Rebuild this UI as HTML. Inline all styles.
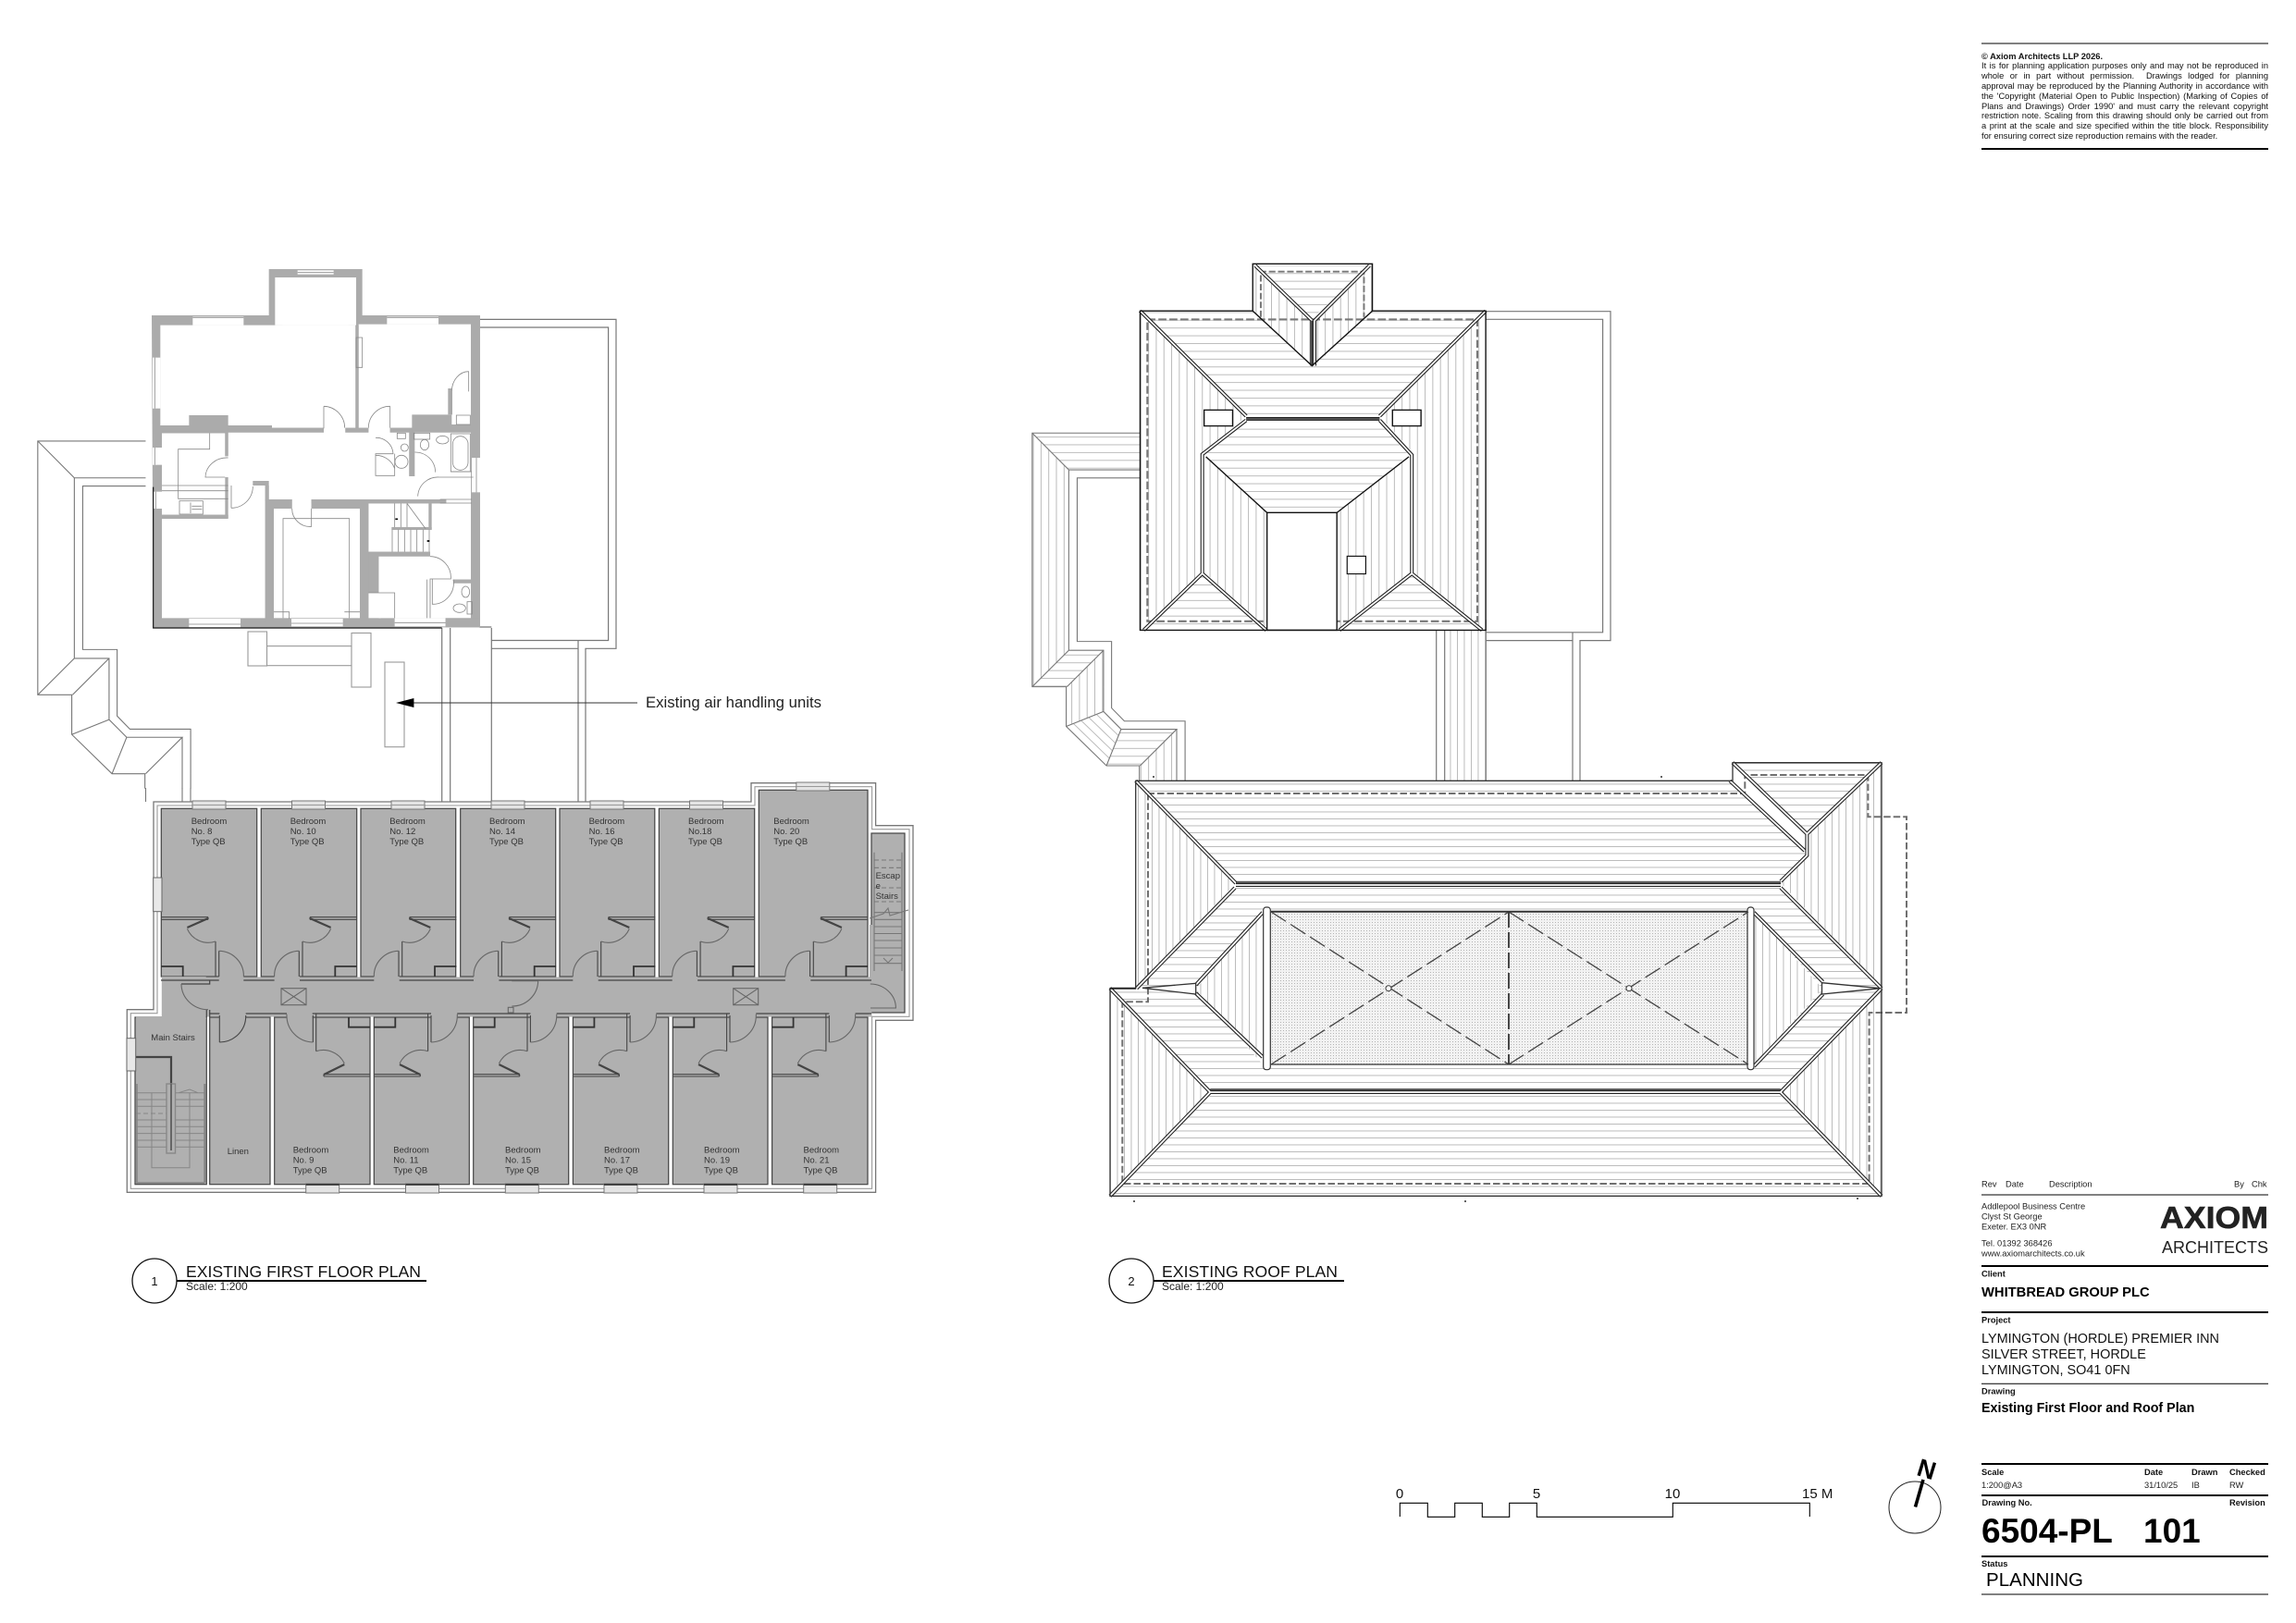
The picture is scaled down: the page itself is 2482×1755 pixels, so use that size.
<!DOCTYPE html>
<html><head><meta charset="utf-8"><title>6504-PL 101</title>
<style>
html,body{margin:0;padding:0;background:#fff}
body{position:relative;width:2482px;height:1755px;overflow:hidden;font-family:"Liberation Sans",sans-serif}
svg{position:absolute;left:0;top:0}
#note{position:absolute;left:2142px;top:55.6px;width:310px;font-size:9.3px;line-height:10.8px;color:#111}
#note div{text-align:justify;text-align-last:justify;white-space:pre-wrap}
#note .l{text-align:left;text-align-last:left}
text{font-family:"Liberation Sans",sans-serif}
.lb{font-size:9.5px;fill:#333}
.t{font-size:9.3px;fill:#222}
.b{font-size:9.3px;font-weight:bold;fill:#111}
</style></head><body>
<svg width="2482" height="1755" viewBox="0 0 2482 1755" xmlns="http://www.w3.org/2000/svg">
<defs>
<pattern id="h" width="8" height="7.5" patternUnits="userSpaceOnUse"><rect width="8" height="0.9" fill="#b4b4b4"/></pattern>
<pattern id="v" width="7.5" height="8" patternUnits="userSpaceOnUse"><rect width="0.9" height="8" fill="#b4b4b4"/></pattern>
<pattern id="h3" width="20" height="22" patternUnits="userSpaceOnUse"><rect width="20" height="2.4" fill="#b8b8b8"/></pattern>
<pattern id="v3" width="21" height="20" patternUnits="userSpaceOnUse"><rect width="2.4" height="20" fill="#b8b8b8"/></pattern>
<pattern id="o3" width="21" height="21" patternUnits="userSpaceOnUse" patternTransform="rotate(-45)"><rect width="2.4" height="21" fill="#b8b8b8"/></pattern>
<pattern id="sp" width="3" height="3" patternUnits="userSpaceOnUse"><rect width="3" height="3" fill="#f2f2f2"/><rect x="1" y="1" width="1" height="1" fill="#b5b5b5"/></pattern>

<g id="flat" fill="none" stroke="#777" stroke-width="1.2">
<path d="M518 345.4H666V701.3H633V870M518 354H657.6V692.5H531.3M625 692.5V870M531.3 701.3H625M486.7 679V867M531.3 679V867M518 678H531.3"/>
<path d="M477.7 679V867"/>
</g>

<g id="wl" fill="none" stroke="#777" stroke-width="2.8" transform="translate(1100 270) scale(.3954 .3827)">
<path d="M335 518H40V1235H133V1347L243 1458H333V1500M335 645H163V1107H257V1295L292 1332H458V1500M435 1355V1500M335 622H140V1132H235V1305L283 1355H435L335 1458M40 518L140 622M40 1235L140 1132M135 1235L235 1132M133 1347L235 1305M283 1355L243 1458"/>
</g>

<g id="tu" fill="none" stroke="#444" stroke-width="1.1">
<path d="M41 1028.3V1056M44.7 1018V1056"/>
<path d="M52.7 991.7H103.4M52.7 994.3H103.4M52.7 991.7V994.3"/>
<path d="M52.7 993L75.3 1003" stroke-width="2.2"/>
<path d="M75.3 1004.3A24.7 24.7 0 0 1 44.7 1018M41 1028.3A27 27 0 0 0 14.3 1056" stroke="#666"/>
<path d="M80 1056V1045H103.4" stroke-width="1.8" stroke="#333"/>
</g>
<g id="bu" fill="none" stroke="#444" stroke-width="1.1">
<path d="M58.3 1096V1136.7M61.7 1098V1127"/>
<path d="M0 1161.7H50M0 1164H50M50 1161.7V1164"/>
<path d="M50 1162L27.7 1151" stroke-width="2.2"/>
<path d="M27.7 1150A25.3 25.3 0 0 1 58.3 1136.7M61.7 1127A29 29 0 0 0 90 1096.7" stroke="#666"/>
<path d="M0 1110.7H23V1100" stroke-width="1.8" stroke="#333"/>
</g>
<g id="w"><rect x="-18" y="866" width="36" height="9" fill="#e4e4e4" stroke="#777" stroke-width="1"/><path d="M-18 870.5H18" stroke="#999"/></g>
<g id="wb"><rect x="-18" y="1280" width="36" height="10" fill="#e4e4e4" stroke="#777" stroke-width="1"/><path d="M-18 1281H18" stroke="#222" stroke-width="1.4"/></g>
</defs>

<!-- ================= FIRST FLOOR ================ -->
<use href="#flat"/>
<use href="#wl" transform="translate(-1075 8.7)"/>
<path d="M157.5 852V867M197 852V867M206 852V867" stroke="#777" stroke-width="1.1" fill="none"/>

<!-- house -->
<g transform="translate(150 280) scale(.33333)">
<path d="M42 183H422V33H725V183H1107V1195H47Z" fill="#ababab"/>
<g fill="#fff">
<path d="M70 215H703V548H432V540H290V507H163V541H70Z"/>
<path d="M713 212H1077V537H1015V505H886V548H713Z"/>
<path d="M442 60H705V215H442Z"/>
<path d="M75 565H280V640H290V563H877V705H895V563H1077V1040H1020V1052H1077V1165H995L830 1165H778V965H945V950H745V793H997V780H422V720H370V735H410V1165H75V843H290V830H75Z"/>
<path d="M290 705H370V843H290Z"/>
<rect x="600" y="545" width="70" height="20"/>
<rect x="745" y="545" width="70" height="20"/>
<rect x="438" y="810" width="279" height="355"/>
<rect x="497" y="780" width="63" height="32"/>
<rect x="745" y="1083" width="40" height="82"/>
<rect x="280" y="640" width="12" height="68"/>
<!-- windows -->
<rect x="175" y="187" width="165" height="28"/>
<rect x="467" y="183" width="213" height="32"/>
<rect x="515" y="37" width="117" height="13"/>
<rect x="805" y="187" width="167" height="25"/>
<rect x="45" y="320" width="25" height="165"/>
<rect x="45" y="612" width="30" height="56"/>
<rect x="48" y="755" width="27" height="55"/>
<rect x="1080" y="645" width="27" height="112"/>
<rect x="163" y="1167" width="167" height="28"/>
<rect x="495" y="1167" width="167" height="25"/>
<rect x="830" y="1165" width="165" height="27"/>
</g>
<g fill="#ababab">
<rect x="1003" y="420" width="12" height="85"/>
<rect x="940" y="793" width="10" height="85"/>
<rect x="820" y="870" width="130" height="9"/>
<rect x="745" y="950" width="200" height="15"/>
<rect x="745" y="960" width="33" height="123"/>
<rect x="280" y="708" width="10" height="132"/>
<rect x="75" y="830" width="215" height="13"/>
<rect x="410" y="735" width="12" height="50"/>
<rect x="370" y="720" width="50" height="15"/>
<rect x="422" y="780" width="75" height="30"/>
<rect x="560" y="780" width="437" height="13"/>
<rect x="560" y="780" width="157" height="30"/>
<rect x="717" y="780" width="28" height="385"/>
<rect x="410" y="780" width="28" height="400"/>
<rect x="703" y="215" width="10" height="333"/>
<rect x="877" y="548" width="13" height="157"/>
<rect x="815" y="548" width="62" height="15"/>
<rect x="70" y="540" width="220" height="25"/>
<rect x="290" y="540" width="142" height="23"/>
<rect x="432" y="548" width="168" height="15"/>
<rect x="670" y="548" width="75" height="15"/>
<rect x="886" y="548" width="191" height="15"/>
<rect x="280" y="565" width="10" height="75"/>
<rect x="1020" y="1040" width="60" height="12"/>
<rect x="995" y="1165" width="112" height="30"/>
</g>
<g fill="none" stroke="#888" stroke-width="2.4">
<path d="M600 478V550M600 478A70 70 0 0 1 668 548M815 478V548M815 478A70 70 0 0 0 745 548"/>
<path d="M1070 365V430M1070 365A55 65 0 0 0 1015 430V505M1030 507H1075V537H1030Z"/>
<path d="M290 645A70 65 0 0 0 216 708H280M300 808A70 70 0 0 0 370 738M300 735V808"/>
<path d="M768 580A55 55 0 0 1 825 632H768V703H830V632M768 637A65 65 0 0 1 830 680"/>
<circle cx="862" cy="612" r="12"/><circle cx="852" cy="658" r="21"/><rect x="838" y="565" width="27" height="18"/>
<rect x="1012" y="567" width="63" height="123"/><rect x="1018" y="575" width="50" height="110" rx="25"/>
<ellipse cx="927" cy="603" rx="14" ry="17"/><ellipse cx="985" cy="587" rx="20" ry="13"/><rect x="892" y="565" width="52" height="20"/>
<path d="M895 627A65 65 0 0 1 962 692M905 770A65 65 0 0 1 975 708H1085M1012 690H1080"/>
<path d="M230 565V617H128V778H290M75 735H290M75 752H290"/><rect x="132" y="785" width="76" height="43"/><path d="M168 790V825M172 802H205M172 812H205"/>
<path d="M830 793V870M850 793V870M870 793V870M870 793L930 875M822 878V950M842 878V950M862 878V950M882 878V950M902 878V950M922 878V950M942 878V950"/>
<path d="M497 810A58 58 0 0 0 560 868V810M468 1165V842H683V1165M438 1145H488V1167M667 1145H717"/>
<path d="M945 965A68 68 0 0 1 1012 1038H945V1165M935 1040V1165M952 1038V1120A68 68 0 0 0 1020 1040"/>
<ellipse cx="1060" cy="1080" rx="13" ry="18"/><ellipse cx="1040" cy="1133" rx="20" ry="14"/><rect x="1065" y="1112" width="16" height="40"/>
<path d="M745 1083H830V1165"/>
<path d="M705 255H725V352H705ZM977 780H1080M977 792H1080"/>
<path d="M175 190H340M805 190H972M515 44H632M163 1185H330M495 1182H662M830 1180H995M52 320V485M52 612V668M55 755V810M1095 645V757"/>
</g>
<path d="M832 844h8M935 915h8" stroke="#000" stroke-width="5"/>
<path d="M47 740V1197H983" fill="none" stroke="#111" stroke-width="3.5"/>
</g>

<!-- AHU -->
<g fill="#fff" stroke="#999" stroke-width="1.1">
<rect x="288.5" y="698.6" width="91.5" height="21.1"/>
<rect x="268" y="683" width="20.5" height="37"/>
<rect x="380" y="684.5" width="21" height="58.5"/>
<rect x="416" y="716" width="21" height="91.7"/>
</g>
<path d="M447 760H689" stroke="#333" stroke-width="1.1"/>
<path d="M428 760L447.4 755V765Z" fill="#000"/>
<text x="698" y="765" font-size="16.7" textLength="190" fill="#222">Existing air handling units</text>

<!-- wing walls -->
<path d="M166 867H812V846.7H946.6V892.7H987V1103.3H946.6V1289.3H137.3V1091.7H166Z" fill="#fff" stroke="#777" stroke-width="1.3"/>
<path d="M170 871H816V850.7H942.6V896.7H983V1099.3H942.6V1285.3H141.3V1095.7H170Z" fill="#fff" stroke="#999" stroke-width="1.1"/>

<g fill="#b0b0b0" stroke="#444" stroke-width="1.2">
<rect x="174.3" y="874.3" width="103.4" height="181.7"/>
<rect x="282.3" y="874.3" width="103.4" height="181.7"/>
<rect x="390" y="874.3" width="102.7" height="181.7"/>
<rect x="497.7" y="874.3" width="103" height="181.7"/>
<rect x="605" y="874.3" width="102.8" height="181.7"/>
<rect x="712.4" y="874.3" width="103.3" height="181.7"/>
<rect x="820.3" y="854.3" width="117.7" height="201.7"/>
<rect x="146" y="1100" width="77.3" height="180.7"/>
<rect x="226.7" y="1100" width="65.3" height="180.7"/>
<rect x="296.7" y="1100" width="103.3" height="180.7"/>
<rect x="404.3" y="1100" width="103" height="180.7"/>
<rect x="511.7" y="1100" width="103" height="180.7"/>
<rect x="619.4" y="1100" width="103.3" height="180.7"/>
<rect x="727.3" y="1100" width="102.7" height="180.7"/>
<rect x="834.6" y="1100" width="103.4" height="180.7"/>
<rect x="942" y="901" width="36" height="194"/>
</g>
<g fill="#b0b0b0">
<rect x="174.9" y="1056.5" width="767.5" height="43"/>
<rect x="174.9" y="1056" width="47.8" height="46"/>
<rect x="147" y="1099" width="75.5" height="5"/>
<rect x="940" y="1000" width="6" height="94"/>
<rect x="236.7" y="1054" width="26.6" height="4"/><rect x="296.6" y="1054" width="27.4" height="4"/><rect x="404.3" y="1054" width="27.4" height="4"/><rect x="512" y="1054" width="27.4" height="4"/><rect x="619.3" y="1054" width="27.4" height="4"/><rect x="726.7" y="1054" width="27.4" height="4"/><rect x="848.9" y="1054" width="27.4" height="4"/>
<rect x="237.3" y="1098" width="28.4" height="4"/><rect x="310" y="1098" width="27.7" height="4"/><rect x="466" y="1098" width="28.3" height="4"/><rect x="573.4" y="1098" width="28.3" height="4"/><rect x="681" y="1098" width="28.4" height="4"/><rect x="789" y="1098" width="28.3" height="4"/><rect x="896.3" y="1098" width="28.3" height="4"/>
</g>
<path d="M174 1060H226.7V1064H196M226.7 1060H236.7M263.3 1060H296.6M324 1060H404.3M431.7 1060H512M539.4 1060H619.3M646.7 1060H726.7M754.1 1060H848.9M876.3 1060H942M226 1096H237.3M265.7 1096H310M337.7 1096H466M494.3 1096H573.4M601.7 1096H681M709.4 1096H789M817.3 1096H896.3M924.6 1096H942M223.3 1092V1100M226.7 1092V1100" fill="none" stroke="#444" stroke-width="1.2"/>

<use href="#tu" transform="translate(277.7 0) scale(-1 1)"/>
<use href="#tu" x="282.3"/><use href="#tu" x="390"/><use href="#tu" x="497.7"/><use href="#tu" x="605"/><use href="#tu" x="712.4"/><use href="#tu" x="834.6"/>
<use href="#bu" transform="translate(400 0) scale(-1 1)"/>
<use href="#bu" x="404.3"/><use href="#bu" x="511.7"/><use href="#bu" x="619.4"/><use href="#bu" x="727.3"/><use href="#bu" x="834.6"/>

<g fill="none" stroke="#666" stroke-width="1.1">
<path d="M196 1064A29 28 0 0 0 225 1091.7"/>
<path d="M237.3 1098V1127M237.3 1127A28.4 28.4 0 0 0 265.7 1098" stroke="#444"/>
<path d="M581.7 1060.7A28 28 0 0 1 553.3 1088M553.3 1060.7H581.7"/>
<rect x="549.3" y="1089.3" width="5.7" height="5.7"/>
<path d="M940.8 1064A28 26 0 0 1 968.4 1090H941"/>
<rect x="304" y="1068.7" width="27" height="18"/><path d="M304 1068.7L331 1086.7M331 1068.7L304 1086.7"/>
<rect x="792.7" y="1068.7" width="27" height="18"/><path d="M792.7 1068.7L819.7 1086.7M819.7 1068.7L792.7 1086.7"/>
</g>
<!-- main stairs -->
<g fill="none" stroke="#868686" stroke-width="1">
<path d="M147 1181.7H221M147 1189H221M147 1196.3H221M147 1211H221M147 1218.3H221M147 1225.6H221M147 1233H221M147 1240.3H221M164 1181.7V1262.7H205V1181.7M193 1181.7L205 1178L214 1181.7"/>
<path d="M147 1189H180M147 1204H180" stroke-dasharray="5 3"/>
<path d="M148 1280V1172" stroke-width="1.6"/>
<path d="M147.5 1279H221" stroke-width="1.8"/>
<path d="M221.5 1172V1279" stroke-width="2.4"/>
</g>
<path d="M146 1143H185V1172" fill="none" stroke="#444" stroke-width="2.2"/>
<rect x="180" y="1172" width="9.5" height="75" fill="#b0b0b0" stroke="#888" stroke-width="1.4"/>
<path d="M185 1172V1244" stroke="#666" stroke-width="2"/>
<!-- escape stairs -->
<g fill="none" stroke="#777" stroke-width="1.1">
<path d="M945 921.7V1050M975 921.7V1050"/>
<path d="M945 930H975M945 938.3H975M945 960H975M945 975H975" stroke-dasharray="5 3"/>
<path d="M945 986.7H975M945 994.3H975M945 1002H975M945 1009.5H975M945 1017H975M945 1025H975M945 1033H975M945 1041.7H975M940 993L955 988L960 982L962 990L982 984M955 1036L960 1041L965 1036"/>
</g>
<!-- wing windows -->
<use href="#w" x="226"/><use href="#w" x="333.5"/><use href="#w" x="441"/><use href="#w" x="549"/><use href="#w" x="656"/><use href="#w" x="763.5"/>
<use href="#w" transform="translate(878.8 -20)"/>
<use href="#wb" x="348.7"/><use href="#wb" x="456.5"/><use href="#wb" x="564.3"/><use href="#wb" x="671"/><use href="#wb" x="779"/><use href="#wb" x="886.7"/>
<g fill="#e8e8e8" stroke="#666">
<rect x="165.7" y="949" width="9.3" height="36.7"/>
<rect x="137" y="1122.7" width="9.7" height="35.3"/>
</g>

<!-- room labels -->
<g class="lb">
<text class="lb" x="206.7" y="891">Bedroom</text><text class="lb" x="206.7" y="902">No. 8</text><text class="lb" x="206.7" y="913">Type QB</text>
<text class="lb" x="313.7" y="891">Bedroom</text><text class="lb" x="313.7" y="902">No. 10</text><text class="lb" x="313.7" y="913">Type QB</text>
<text class="lb" x="421.3" y="891">Bedroom</text><text class="lb" x="421.3" y="902">No. 12</text><text class="lb" x="421.3" y="913">Type QB</text>
<text class="lb" x="529" y="891">Bedroom</text><text class="lb" x="529" y="902">No. 14</text><text class="lb" x="529" y="913">Type QB</text>
<text class="lb" x="636.6" y="891">Bedroom</text><text class="lb" x="636.6" y="902">No. 16</text><text class="lb" x="636.6" y="913">Type QB</text>
<text class="lb" x="744" y="891">Bedroom</text><text class="lb" x="744" y="902">No.18</text><text class="lb" x="744" y="913">Type QB</text>
<text class="lb" x="836.3" y="891">Bedroom</text><text class="lb" x="836.3" y="902">No. 20</text><text class="lb" x="836.3" y="913">Type QB</text>
<text class="lb" x="316.7" y="1246.7">Bedroom</text><text class="lb" x="316.7" y="1257.7">No. 9</text><text class="lb" x="316.7" y="1268.7">Type QB</text>
<text class="lb" x="425.3" y="1246.7">Bedroom</text><text class="lb" x="425.3" y="1257.7">No. 11</text><text class="lb" x="425.3" y="1268.7">Type QB</text>
<text class="lb" x="546" y="1246.7">Bedroom</text><text class="lb" x="546" y="1257.7">No. 15</text><text class="lb" x="546" y="1268.7">Type QB</text>
<text class="lb" x="653" y="1246.7">Bedroom</text><text class="lb" x="653" y="1257.7">No. 17</text><text class="lb" x="653" y="1268.7">Type QB</text>
<text class="lb" x="761" y="1246.7">Bedroom</text><text class="lb" x="761" y="1257.7">No. 19</text><text class="lb" x="761" y="1268.7">Type QB</text>
<text class="lb" x="868.5" y="1246.7">Bedroom</text><text class="lb" x="868.5" y="1257.7">No. 21</text><text class="lb" x="868.5" y="1268.7">Type QB</text>
<text class="lb" x="245.7" y="1248">Linen</text>
<text class="lb" x="163.3" y="1125">Main Stairs</text>
<text class="lb" x="946.6" y="950">Escap</text><text class="lb" x="946.6" y="961">e</text><text class="lb" x="946.6" y="972">Stairs</text>
</g>

<!-- ================= ROOF ================ -->
<use href="#flat" transform="translate(1075 -8.7)"/>
<rect x="1561.7" y="681" width="44.3" height="164" fill="url(#v)"/>

<!-- bent wing -->
<g transform="translate(1100 270) scale(.3954 .3827)">
<path d="M40 518H335V622H140Z" fill="url(#h3)"/>
<path d="M40 518L140 622V1132L40 1235Z" fill="url(#v3)"/>
<path d="M40 1235L140 1132H235L135 1235Z" fill="url(#h3)"/>
<path d="M135 1235L235 1132V1305L135 1347Z" fill="url(#v3)"/>
<path d="M135 1347L235 1305L283 1355L243 1458Z" fill="url(#o3)"/>
<path d="M283 1355H435L335 1458H243Z" fill="url(#h3)"/>
<path d="M435 1355V1500H335V1458Z" fill="url(#v3)"/>
</g>
<use href="#wl"/>

<!-- main roof -->
<g transform="translate(1100 270) scale(.3954 .3827)">
<path d="M335 173H643V40H970V173H1280V1075H335Z" fill="#fff"/>
<path d="M335 173H643L805 330L970 173H1280L990 468H625Z" fill="url(#h3)"/>
<path d="M335 173L625 470L505 578V915L345 1075H335Z" fill="url(#v3)"/>
<path d="M1280 173L990 470L1085 578V915L1270 1075H1280Z" fill="url(#v3)"/>
<path d="M345 1075L505 915L680 1075Z" fill="url(#h3)"/>
<path d="M880 1075L1078 915L1270 1075Z" fill="url(#h3)"/>
<path d="M512 580L625 490H990L1070 580L873 743H682Z" fill="url(#h3)"/>
<path d="M515 585L682 743V1075L515 915Z" fill="url(#v3)"/>
<path d="M873 743L1070 585V915L873 1075Z" fill="url(#v3)"/>
<path d="M650 45H962L805 195Z" fill="url(#h3)"/>
<path d="M643 40L805 200V330L643 173Z" fill="url(#v3)"/>
<path d="M970 40L810 200V330L970 173Z" fill="url(#v3)"/>
<path d="M355 197H1257V1050H355Z" fill="none" stroke="#777" stroke-width="5.5" stroke-dasharray="22 8"/>
<path d="M665 190V62H947V190" fill="none" stroke="#777" stroke-width="5" stroke-dasharray="18 7"/>
<path d="M335 173L625 470M1280 173L990 470M625 482L505 578V915L345 1075M505 915L680 1075M990 482L1078 580V915L880 1075M1078 915L1270 1075M650 45L805 200V328M962 45L812 200V328M625 478H990" fill="none" stroke="#1c1c1c" stroke-width="10"/>
<path d="M335 173L625 470M1280 173L990 470M625 482L505 578V915L345 1075M505 915L680 1075M990 482L1078 580V915L880 1075M1078 915L1270 1075M650 45L805 200V328M962 45L812 200V328M625 478H990" fill="none" stroke="#fff" stroke-width="4.5"/>
<path d="M625 478H990M805 200V328" fill="none" stroke="#111" stroke-width="3"/>
<path d="M643 173L805 328L970 173M515 585L682 743M1070 585L873 743" fill="none" stroke="#111" stroke-width="3.5"/>
<path d="M682 743H873V1075H682Z" fill="#fff" stroke="#111" stroke-width="3.5"/>
<path d="M335 173H643V40H970V173H1280V1075H335Z" fill="none" stroke="#111" stroke-width="3.5"/>
<rect x="510" y="453" width="78" height="45" fill="#fff" stroke="#111" stroke-width="3.5"/>
<rect x="1025" y="453" width="78" height="45" fill="#fff" stroke="#111" stroke-width="3.5"/>
<rect x="901" y="866" width="51" height="50" fill="#fff" stroke="#111" stroke-width="3"/>
</g>

<!-- wing roof -->
<path d="M1227.7 844.3H1873V824.7H2034V1293.3H1200V1068.7H1227.7Z" fill="#fff"/>
<path d="M1228 844.3H1870L1953 925L1925 953H1336Z" fill="url(#h)"/>
<path d="M1228 844.3L1336 955L1228 1068Z" fill="url(#v)"/>
<path d="M1953 902L2034 825V1068L1925 955L1953 925Z" fill="url(#v)"/>
<path d="M1873 825H2034L1953 900Z" fill="url(#h)"/>
<path d="M1336 960H1925L2034 1068L1925 1178H1308L1200 1068H1228Z" fill="url(#h)"/>
<path d="M1308 1185H1925L2034 1293H1200Z" fill="url(#h)"/>
<path d="M1200 1070L1308 1180L1200 1293Z" fill="url(#v)"/>
<path d="M1925 1180L2034 1068V1293Z" fill="url(#v)"/>
<path d="M1292.7 1069.5L1365 986H1374V1151H1365Z" fill="#fff"/>
<path d="M1292.7 1069.5L1365 986V1151Z" fill="url(#v)"/>
<path d="M1970 1069L1896 986H1889V1151H1896Z" fill="#fff"/>
<path d="M1970 1069L1896 986V1151Z" fill="url(#v)"/>
<rect x="1374" y="985.7" width="516" height="165.3" fill="url(#sp)"/>
<path d="M1240.5 858H1886.3V838H2019.4V883.3H2061V1095H2020.6V1280H1213.3V1083.3H1241V858Z" fill="none" stroke="#707070" stroke-width="2" stroke-dasharray="7.5 3"/>
<path d="M1227.7 844.3L1336 955M1336 957H1925M1335 960L1228.7 1068.7M1925 953L1953.4 925V901.7M1873 824.7L1953.4 901.7M2034 824.7L1953.4 901.7M1870 844.3L1951 920M1925 960L2034 1068.7M1308.3 1181H1924.7M1200 1068.7L1308.3 1181L1200 1293.3M1924.7 1181L2034 1293.3M1924.7 1181L2034 1068.7M1365 986.7L1292.7 1065M1365 1143L1292.7 1074M1896 986.7L1970.6 1061.7M1896 1153L1970.6 1075" fill="none" stroke="#222" stroke-width="4"/>
<path d="M1227.7 844.3L1336 955M1336 957H1925M1335 960L1228.7 1068.7M1925 953L1953.4 925V901.7M1873 824.7L1953.4 901.7M2034 824.7L1953.4 901.7M1870 844.3L1951 920M1925 960L2034 1068.7M1308.3 1181H1924.7M1200 1068.7L1308.3 1181L1200 1293.3M1924.7 1181L2034 1293.3M1924.7 1181L2034 1068.7M1365 986.7L1292.7 1065M1365 1143L1292.7 1074M1896 986.7L1970.6 1061.7M1896 1153L1970.6 1075" fill="none" stroke="#fff" stroke-width="1.8"/>
<path d="M1336 954H1925M1308.3 1178H1924.7" stroke="#222" stroke-width="1.6"/>
<path d="M1227.7 844.3H1873V824.7H2034V1293.3H1200V1068.7H1227.7Z" fill="none" stroke="#333" stroke-width="1.3"/>
<path d="M1200 1068.7H1228" stroke="#222" stroke-width="2"/>
<path d="M1235 1068.3L1292.7 1063.3V1075Z" fill="#fff" stroke="#333" stroke-width="1.3"/>
<path d="M1969.5 1062.7L2033 1068.7L1969.5 1075Z" fill="#fff" stroke="#333" stroke-width="1.3"/>
<!-- court -->
<path d="M1374 985.7H1890" stroke="#333" stroke-width="2"/>
<path d="M1374 1151H1890" stroke="#333" stroke-width="1.2"/>
<rect x="1365.7" y="981" width="7.6" height="175.7" rx="3" fill="#fff" stroke="#333" stroke-width="1.2"/>
<rect x="1889" y="981" width="7" height="175.7" rx="3" fill="#fff" stroke="#333" stroke-width="1.2"/>
<path d="M1374 986L1631 1151M1374 1151L1631 986M1631 986L1890 1151M1631 1151L1890 986" stroke="#444" stroke-width="1.3" stroke-dasharray="19 6" fill="none"/>
<path d="M1631 986V1151" stroke="#333" stroke-width="1.8" stroke-dasharray="17 5"/>
<circle cx="1501" cy="1068.7" r="3" fill="#fff" stroke="#333"/>
<circle cx="1761" cy="1068.7" r="3" fill="#fff" stroke="#333"/>
<g fill="#333"><circle cx="1247" cy="840" r="1"/><circle cx="1796" cy="840" r="1"/><circle cx="1226" cy="1299" r="1"/><circle cx="1584" cy="1299" r="1"/><circle cx="2008" cy="1296" r="1"/></g>

<!-- drawing titles -->
<circle cx="167" cy="1385" r="24" fill="none" stroke="#111" stroke-width="1.3"/>
<text x="167" y="1390" font-size="13" text-anchor="middle" fill="#111">1</text>
<path d="M191 1385H461" stroke="#000" stroke-width="2"/>
<text x="201" y="1381" font-size="17.58" textLength="254" fill="#111">EXISTING FIRST FLOOR PLAN</text>
<text x="201" y="1395" font-size="12" fill="#222">Scale: 1:200</text>
<circle cx="1223" cy="1385" r="24" fill="none" stroke="#111" stroke-width="1.3"/>
<text x="1223" y="1390" font-size="13" text-anchor="middle" fill="#111">2</text>
<path d="M1247 1385H1453" stroke="#000" stroke-width="2"/>
<text x="1256" y="1381" font-size="17.58" textLength="190" fill="#111">EXISTING ROOF PLAN</text>
<text x="1256" y="1395" font-size="12" fill="#222">Scale: 1:200</text>

<!-- scale bar -->
<path d="M1513.3 1640V1625.3H1543.3V1640.3H1572.7V1625.3H1602.3V1640.3H1631.7V1625.3H1661.3V1640.3H1808.3V1625.3H1956.3V1640" fill="none" stroke="#000" stroke-width="1.1"/>
<g font-size="15" fill="#111">
<text x="1513" y="1620" text-anchor="middle">0</text>
<text x="1661" y="1620" text-anchor="middle">5</text>
<text x="1808" y="1620" text-anchor="middle">10</text>
<text x="1948" y="1620">15 M</text>
</g>

<!-- north -->
<circle cx="2070" cy="1630" r="28" fill="none" stroke="#222" stroke-width="1"/>
<path d="M2070.5 1629.5L2079 1600" stroke="#000" stroke-width="3.6"/>
<text x="2083" y="1598" font-size="27" font-weight="bold" text-anchor="middle" transform="rotate(17 2083 1588)" fill="#000">N</text>

<!-- title block -->
<path d="M2142 47H2452" stroke="#000" stroke-width="1"/>
<path d="M2142 161H2452" stroke="#000" stroke-width="2"/>
<g class="t">
<text class="t" x="2142" y="1283.5">Rev</text><text class="t" x="2168" y="1283.5">Date</text><text class="t" x="2215" y="1283.5">Description</text><text class="t" x="2415" y="1283.5">By</text><text class="t" x="2434" y="1283.5">Chk</text>
<text class="t" x="2142" y="1307.5">Addlepool Business Centre</text>
<text class="t" x="2142" y="1318.5">Clyst St George</text>
<text class="t" x="2142" y="1329.5">Exeter.  EX3 0NR</text>
<text class="t" x="2142" y="1347.5">Tel.  01392 368426</text>
<text class="t" x="2142" y="1358.5">www.axiomarchitects.co.uk</text>
</g>
<path d="M2142 1292H2452" stroke="#000" stroke-width="1"/>
<text x="2335" y="1328" font-size="33" font-weight="bold" textLength="117" lengthAdjust="spacingAndGlyphs" fill="#222" stroke="#222" stroke-width=".6">AXIOM</text>
<text x="2337" y="1355" font-size="18.5" textLength="115" lengthAdjust="spacingAndGlyphs" fill="#222">ARCHITECTS</text>
<path d="M2142 1369H2452M2142 1419H2452" stroke="#000" stroke-width="2"/>
<text class="b" x="2142" y="1380.3">Client</text>
<text x="2142" y="1402" font-size="14.75" font-weight="bold" fill="#000">WHITBREAD GROUP PLC</text>
<text class="b" x="2142" y="1430.3">Project</text>
<g font-size="14.45" fill="#111">
<text x="2142" y="1452">LYMINGTON (HORDLE) PREMIER INN</text>
<text x="2142" y="1469">SILVER STREET, HORDLE</text>
<text x="2142" y="1486">LYMINGTON, SO41 0FN</text>
</g>
<path d="M2142 1496.3H2452" stroke="#000" stroke-width="1"/>
<text class="b" x="2142" y="1507.3">Drawing</text>
<text x="2142" y="1527" font-size="14.3" font-weight="bold" fill="#000">Existing First Floor and Roof Plan</text>

<path d="M2142 1583H2452M2142 1617H2452M2142 1683H2452" stroke="#000" stroke-width="2"/>
<path d="M2142 1724H2452" stroke="#000" stroke-width="1"/>
<text class="b" x="2142" y="1595">Scale</text><text class="b" x="2318" y="1595">Date</text><text class="b" x="2369" y="1595">Drawn</text><text class="b" x="2410" y="1595">Checked</text>
<text class="t" x="2142" y="1609">1:200@A3</text><text class="t" x="2318" y="1609">31/10/25</text><text class="t" x="2369" y="1609">IB</text><text class="t" x="2410" y="1609">RW</text>
<text class="b" x="2142.5" y="1628">Drawing No.</text><text class="b" x="2410" y="1628">Revision</text>
<text x="2142" y="1668" font-size="37" font-weight="bold" fill="#000">6504-PL</text>
<text x="2317" y="1668" font-size="37" font-weight="bold" fill="#000">101</text>
<text class="b" x="2142" y="1694">Status</text>
<text x="2147" y="1715" font-size="20.5" textLength="105" fill="#000">PLANNING</text>
</svg>
<div id="note">
<div class="l"><b>© Axiom Architects LLP 2026.</b></div>
<div>It is for planning application purposes only and may not be reproduced in</div>
<div>whole or in part without permission.  Drawings lodged for planning</div>
<div>approval may be reproduced by the Planning Authority in accordance with</div>
<div>the 'Copyright (Material Open to Public Inspection) (Marking of Copies of</div>
<div>Plans and Drawings) Order 1990' and must carry the relevant copyright</div>
<div>restriction note. Scaling from this drawing should only be carried out from</div>
<div>a print at the scale and size specified within the title block. Responsibility</div>
<div class="l">for ensuring correct size reproduction remains with the reader.</div>
</div>
</body></html>
